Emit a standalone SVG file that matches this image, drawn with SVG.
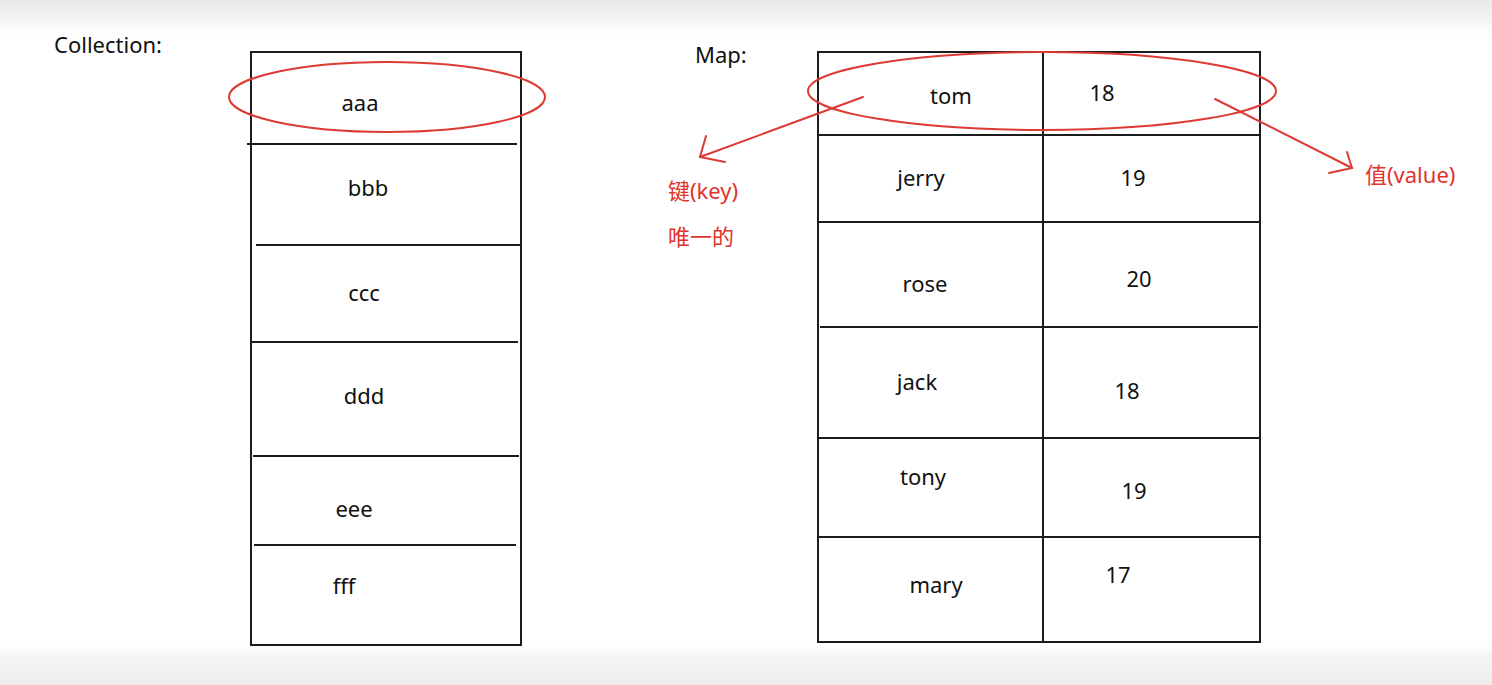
<svg xmlns="http://www.w3.org/2000/svg" width="1492" height="685" viewBox="0 0 1492 685">
<defs>
<linearGradient id="topg" x1="0" y1="0" x2="0" y2="1">
<stop offset="0" stop-color="#e8e9e9"/>
<stop offset="1" stop-color="#ffffff"/>
</linearGradient>
<linearGradient id="botg" x1="0" y1="0" x2="0" y2="1">
<stop offset="0" stop-color="#ffffff"/>
<stop offset="0.3" stop-color="#f4f4f4"/>
<stop offset="1" stop-color="#ededed"/>
</linearGradient>
<style>
.t{font-family:"Noto Sans","Open Sans","Noto Sans CJK SC",sans-serif;font-size:22px;fill:#111;}
.m{text-anchor:middle;}
.r{font-family:"Noto Sans","Noto Sans CJK SC",sans-serif;font-size:22px;fill:#e0332c;}
.box{fill:none;stroke:#1c1c1c;stroke-width:2;}
.ln{stroke:#1c1c1c;stroke-width:2;}
.red{fill:none;stroke:#dd3a33;stroke-width:2;stroke-linecap:round;}
</style>
</defs>
<rect x="0" y="0" width="1492" height="685" fill="#ffffff"/>
<rect x="0" y="0" width="1492" height="36" fill="url(#topg)"/>
<rect x="0" y="645" width="1492" height="40" fill="url(#botg)"/>

<text class="t" x="54" y="53" font-size="22.5">Collection:</text>
<text class="t" x="695" y="63">Map:</text>

<g id="collection">
<rect class="box" x="251" y="52" width="270" height="593"/>
<line class="ln" x1="247" y1="144" x2="517" y2="144"/>
<line class="ln" x1="256" y1="245" x2="521" y2="245"/>
<line class="ln" x1="251" y1="342" x2="518" y2="342"/>
<line class="ln" x1="253" y1="456" x2="519" y2="456"/>
<line class="ln" x1="254" y1="545" x2="516" y2="545"/>
<text class="t m" x="360" y="111">aaa</text>
<text class="t m" x="368" y="196">bbb</text>
<text class="t m" x="364" y="301">ccc</text>
<text class="t m" x="364" y="404">ddd</text>
<text class="t m" x="354" y="517">eee</text>
<text class="t m" x="344" y="594">fff</text>
</g>

<g id="map">
<rect class="box" x="818" y="52" width="442" height="590"/>
<line class="ln" x1="1043" y1="52" x2="1043" y2="642"/>
<line class="ln" x1="818" y1="135" x2="1260" y2="135"/>
<line class="ln" x1="818" y1="222" x2="1260" y2="222"/>
<line class="ln" x1="820" y1="327" x2="1258" y2="327"/>
<line class="ln" x1="818" y1="438" x2="1260" y2="438"/>
<line class="ln" x1="817" y1="537" x2="1260" y2="537"/>
<text class="t m" x="951" y="104">tom</text>
<text class="t m" x="1102" y="101">18</text>
<text class="t m" x="921" y="186">jerry</text>
<text class="t m" x="1133" y="186">19</text>
<text class="t m" x="925" y="292">rose</text>
<text class="t m" x="1139" y="287">20</text>
<text class="t m" x="917" y="390">jack</text>
<text class="t m" x="1127" y="399">18</text>
<text class="t m" x="923" y="485">tony</text>
<text class="t m" x="1134" y="499">19</text>
<text class="t m" x="936" y="593">mary</text>
<text class="t m" x="1118" y="583">17</text>
</g>

<g id="connectors">
<ellipse class="red" cx="387" cy="97" rx="158" ry="35"/>
<ellipse class="red" cx="1042" cy="91" rx="234" ry="39"/>
<polyline class="red" points="863,97 700,157"/>
<polyline class="red" points="706,136 700,157 725,162"/>
<polyline class="red" points="1215,99 1352,168"/>
<polyline class="red" points="1347,152 1352,168 1329,173"/>
</g>

<g id="labels">
<text class="r" x="668" y="199">键(key)</text>
<text class="r" x="668" y="245">唯一的</text>
<text class="r" x="1365" y="183">值(value)</text>
</g>
</svg>
